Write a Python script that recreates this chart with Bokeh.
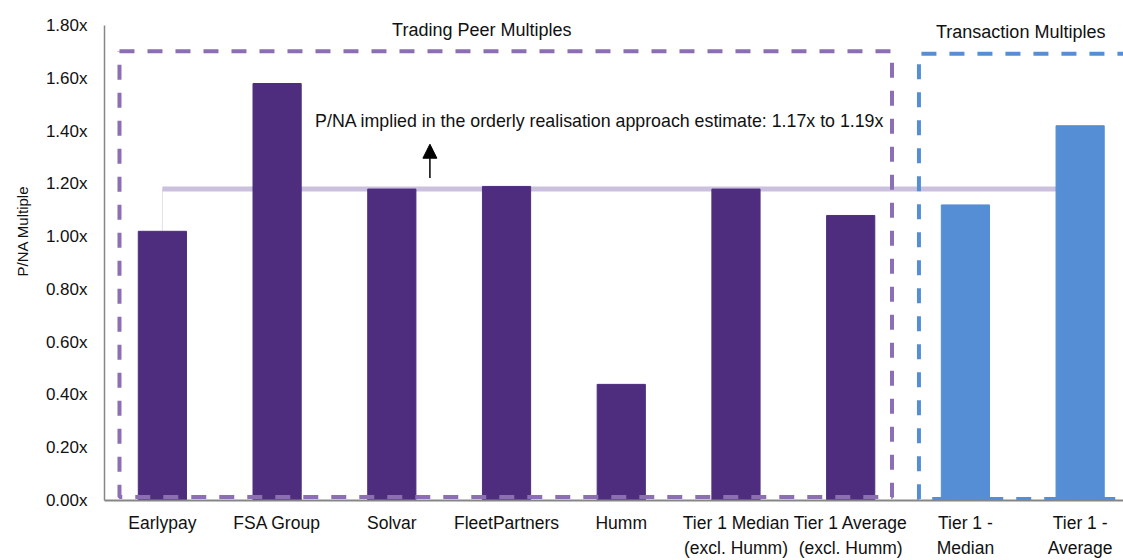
import math
from bokeh.plotting import figure
from bokeh.models import (Range1d, FixedTicker, PrintfTickFormatter, Label,
                          Arrow, NormalHead, ColumnDataSource, Title)
from bokeh.embed import file_html
from bokeh.resources import INLINE

# ---- data ----
categories = ["Earlypay", "FSA Group", "Solvar", "FleetPartners", "Humm",
              "Tier 1 Median\n(excl. Humm)", "Tier 1 Average\n(excl. Humm)",
              "Tier 1 -\nMedian", "Tier 1 -\nAverage"]
multiples = [1.02, 1.58, 1.18, 1.19, 0.44, 1.18, 1.08, 1.12, 1.42]
groups = ["Trading", "Trading", "Trading", "Trading", "Trading", "Trading",
          "Trading", "Transaction", "Transaction"]
implied_low = 1.17
implied_high = 1.19
y_ticks = [0.0, 0.2, 0.4, 0.6, 0.8, 1.0, 1.2, 1.4, 1.6, 1.8]

# ---- styles ----
FONT = "Liberation Sans"
PURPLE = "#4F2D7E"
BLUE = "#558ED5"
PURPLE_DASH = "#8C6EB4"
BLUE_DASH = "#558ED5"
REF_LINE = "#CBC0DD"
AXIS_GREY = "#868686"
TEXT = "#111111"
group_colors = {"Trading": PURPLE, "Transaction": BLUE}

xs = list(range(len(categories)))
src = ColumnDataSource(dict(x=xs, top=multiples,
                            color=[group_colors[g] for g in groups]))

p = figure(width=1123, height=560,
           x_range=Range1d(-0.5046, 8.378), y_range=Range1d(0, 1.8945),
           output_backend="svg", toolbar_location=None,
           min_border_left=102, min_border_right=0,
           min_border_top=0, min_border_bottom=59)
p.outline_line_color = None
p.xgrid.visible = False
p.ygrid.visible = False
p.background_fill_color = "white"
p.border_fill_color = "white"

implied_mid = (implied_low + implied_high) / 2

# thin connector and reference line (behind bars)
p.line(x=[0, 0], y=[multiples[0], implied_mid], line_color="#E4E0EC", line_width=1)
p.line(x=[0, len(categories) - 1], y=[implied_mid, implied_mid],
       line_color=REF_LINE, line_width=5)

# bars
p.vbar(x="x", top="top", width=0.42, bottom=0, color="color", source=src)

# dashed group boxes
tx0, tx1, ty0, ty1 = -0.374, 6.36, 0.013, 1.702
p.line(x=[tx0, tx1, tx1, tx0, tx0], y=[ty1, ty1, ty0, ty0, ty1],
       line_color=PURPLE_DASH, line_width=4, line_dash="15 13")
bx0, bx1, by0, by1 = 6.595, 8.7, 0.006, 1.693
p.line(x=[bx1, bx0, bx0, bx1], y=[by1, by1, by0, by0],
       line_color=BLUE_DASH, line_width=4, line_dash="15 13")

# annotations
p.add_layout(Label(x=2.784, y=1.781, text="Trading Peer Multiples",
                   text_align="center", text_baseline="middle",
                   text_font=FONT, text_font_size="18px", text_color=TEXT))
p.add_layout(Label(x=7.482, y=1.776, text="Transaction Multiples",
                   text_align="center", text_baseline="middle",
                   text_font=FONT, text_font_size="18px", text_color=TEXT))
p.add_layout(Label(x=1.331, y=1.439,
                   text=f"P/NA implied in the orderly  realisation approach estimate: {implied_low:.2f}x to {implied_high:.2f}x",
                   text_align="left", text_baseline="middle",
                   text_font=FONT, text_font_size="17.8px", text_color=TEXT))
p.add_layout(Arrow(end=NormalHead(size=14, fill_color="black", line_color="black"),
                   x_start=2.332, y_start=1.222, x_end=2.332, y_end=1.350,
                   line_color="black", line_width=1.5))
p.add_layout(Title(text="P/NA Multiple", align="left", offset=224, standoff=23,
                   text_font=FONT, text_font_size="15px", text_font_style="normal",
                   text_color=TEXT), "left")

# axes
p.yaxis.ticker = FixedTicker(ticks=y_ticks)
p.yaxis.bounds = (0, 1.8)
p.yaxis.formatter = PrintfTickFormatter(format="%.2fx")
p.yaxis.major_tick_line_color = None
p.yaxis.minor_tick_line_color = None
p.yaxis.major_tick_out = 0
p.yaxis.major_label_standoff = 17
p.yaxis.axis_line_color = AXIS_GREY
p.yaxis.axis_line_width = 1.5
p.yaxis.major_label_text_font = FONT
p.yaxis.major_label_text_font_size = "17px"
p.yaxis.major_label_text_color = TEXT

p.xaxis.ticker = FixedTicker(ticks=xs)
p.xaxis.major_label_overrides = {i: c for i, c in enumerate(categories)}
p.xaxis.major_tick_line_color = None
p.xaxis.minor_tick_line_color = None
p.xaxis.major_tick_out = 0
p.xaxis.major_label_standoff = 12
p.xaxis.axis_line_color = AXIS_GREY
p.xaxis.axis_line_width = 2
p.xaxis.major_label_text_font = FONT
p.xaxis.major_label_text_font_size = "17.5px"
p.xaxis.major_label_text_line_height = 1.25
p.xaxis.major_label_text_color = TEXT

open("out.html", "w").write(file_html(p, INLINE))
